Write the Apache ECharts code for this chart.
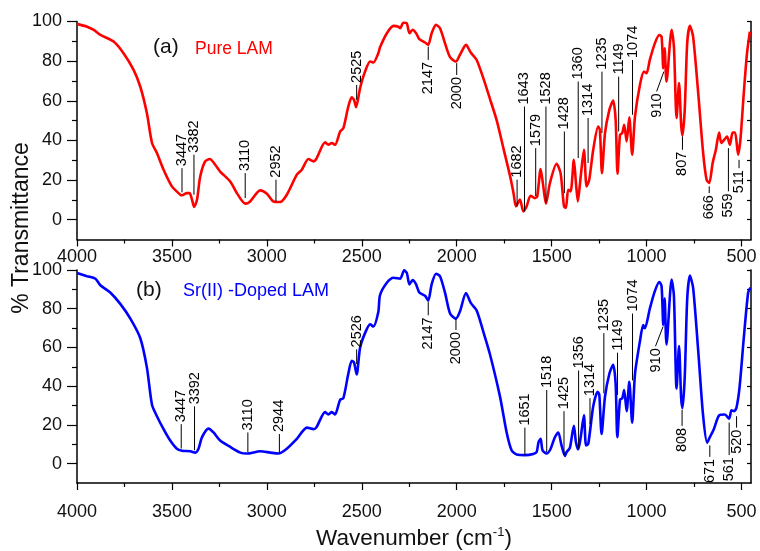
<!DOCTYPE html>
<html><head><meta charset="utf-8">
<script src="https://cdn.jsdelivr.net/npm/echarts@6/dist/echarts.min.js"></script>
<style>html,body{margin:0;padding:0;background:#fff}#c{width:760px;height:551px}</style>
</head><body><div id="c"></div>
<script>
// ---- data (wavenumber in cm-1, % transmittance) ----
const pureWn = [4000,3947,3912,3877,3807,3755,3702,3667,3632,3605,3579,3544,3500,3456,3447,3421,3407,3394,3383,3368,3351,3325,3300,3272,3246,3193,3158,3114,3088,3035,3000,2965,2930,2895,2842,2816,2781,2754,2740,2693,2676,2658,2641,2614,2597,2571,2553,2541,2530,2509,2483,2456,2439,2413,2404,2368,2333,2307,2298,2281,2263,2249,2232,2214,2197,2167,2150,2132,2109,2088,2062,2035,2004,1983,1951,1926,1895,1860,1825,1789,1754,1719,1700,1688,1667,1649,1632,1611,1588,1576,1558,1544,1530,1509,1474,1453,1435,1425,1413,1400,1383,1372,1362,1347,1330,1316,1302,1281,1255,1246,1235,1219,1196,1176,1163,1153,1140,1128,1118,1105,1091,1076,1061,1035,1014,1000,983,956,933,921,912,905,895,868,856,842,829,818,811,799,786,772,755,728,702,684,670,652,635,618,606,588,576,561,547,534,518,505,488,471,456];
const pureT = [98.8,97.4,95.8,93.2,89.9,84,75.6,67.2,53.8,38.7,33.6,25.2,16.8,12.6,12.3,13.4,13.4,10,6.4,10,21.8,29.4,30.6,27.7,24.3,19.3,13.4,8.1,9.2,14.8,13.1,9.2,8.9,12.6,22.7,25.2,30.6,29.4,30.6,39,37.8,38.7,37.8,44.5,46.2,57.1,61.7,60.5,56.8,66.4,74.7,79.8,79.3,84,87,94.1,97.8,97.4,96.6,99.4,99.1,94.1,95.8,94.1,91.1,89.4,88.2,94.1,98.3,96.6,89.1,82,79.8,83.2,88.2,84.3,80.6,71.4,61,50,36,22,13,6.7,10.1,4.2,6.7,12.1,10.9,11.7,25.5,16.8,8.1,18.5,28.2,23.5,6.7,5.9,15.1,14.3,30.2,18.5,9.2,21.8,35.3,16.8,20.2,35.3,47,45.4,23.5,43.7,55.4,60.1,50.4,23.2,42.8,43.7,47.9,39.5,51.7,32.8,52.1,68,74.7,73.9,80.6,89.1,93.2,92.4,76.4,86.5,69.7,95.8,87.3,51.3,68.9,48,42.5,55.4,89.1,97.8,92.4,63.9,33.6,20.2,18.5,28.6,35.3,44,38.7,40.7,42,37.8,44,44,32.8,41.2,63.9,84,94.9];

const dopedWn = [4000,3947,3903,3877,3825,3772,3719,3667,3632,3605,3579,3544,3509,3474,3447,3403,3377,3360,3342,3307,3281,3246,3193,3140,3105,3035,2982,2939,2895,2842,2789,2754,2740,2693,2676,2658,2641,2614,2597,2571,2553,2541,2527,2509,2483,2456,2439,2413,2404,2368,2333,2298,2277,2263,2249,2232,2214,2197,2167,2150,2132,2109,2088,2062,2035,2004,1983,1951,1926,1895,1860,1825,1772,1737,1711,1684,1640,1597,1579,1569,1558,1548,1527,1509,1483,1465,1448,1430,1421,1404,1383,1372,1360,1347,1330,1319,1307,1281,1258,1249,1237,1219,1196,1176,1163,1154,1140,1128,1118,1105,1091,1076,1061,1035,1018,1009,983,956,933,921,912,905,895,868,856,842,829,818,811,799,786,772,755,728,702,681,667,646,618,588,565,553,539,527,510,488,465,453];
const dopedT = [98.5,96.8,95.5,92.1,88.4,82.5,74.9,64.9,49.7,30.4,24.5,17.8,11.9,7.7,6.7,6.4,5.7,7.7,13.6,18.1,16.1,11.9,8.6,5.7,5.2,6.4,5.7,5.2,7.7,12.8,18.6,17.8,18.6,26.6,25.4,26.6,25.4,33,33.8,46.4,53.1,52.3,46.1,59.8,67.4,71.9,70.8,78.3,87,93.4,96,95.5,99.8,98.5,92.6,94.8,92.6,88.4,86.7,84.2,92.6,98.1,96.8,88.4,77.5,74.9,78.6,88.1,83,79.1,68.2,56.5,34.6,16.1,6.9,4.7,4.4,5,6,11.1,12.8,6.9,5.2,6.9,13.6,16.1,9.4,4,6,8.1,19.5,11.1,7.4,13.6,24.9,9.4,10.3,29.6,37.1,35.5,15.3,34.6,46.4,51.1,41.3,13.6,33,33.8,38,27.1,42.2,21.2,46.4,63.2,71.6,69.9,80,89.2,93.8,91.7,71.6,85.4,61.5,95.1,86.7,38.8,60.7,34,28.7,44.7,85,97.1,90.9,58.2,24.5,10.8,13.6,17.8,24.9,25.4,23.2,27.6,27.1,28.7,39.7,64.9,88.4,90.9];

// peak annotations: label, x at low end, y low, x at high end, y high, side (0 = text above, 1 = text below)
const pureAnnLabel = ['3447','3382','3110','2952','2525','2147','2000','1682','1643','1579','1528','1428','1360','1314','1235','1149','1074','910','807','666','559','511'];
const pureAnnX1 = [3447,3384,3114,2952,2527,2150,2000,1682,1643,1584,1530,1433,1360,1308,1235,1147,1074,947,811,670,569,513];
const pureAnnY1 = [13.8,12.6,10.9,9.2,60.5,80.6,73,6.7,4.2,11.8,8.7,13.4,31.1,28.6,43.7,44.5,52.9,64.7,35.3,13.4,14.3,26];
const pureAnnX2 = [3447,3384,3114,2952,2527,2150,2000,1682,1643,1584,1530,1433,1360,1308,1235,1147,1074,909,811,670,569,513];
const pureAnnY2 = [26,32.8,23.5,20.2,68,87.3,79,20.2,57.1,36.1,57.1,44.5,69.7,51.3,74.7,72.2,80.6,74.7,42,16.8,36.1,30.2];
const pureAnnSide = [0,0,0,0,0,1,1,0,0,0,0,0,0,0,0,0,0,1,1,1,1,1];

const dopedAnnLabel = ['3447','3392','3110','2944','2526','2147','2000','1651','1518','1425','1356','1314','1235','1149','1074','910','808','671','561','520'];
const dopedAnnX1 = [3451,3381,3100,2934,2527,2150,2004,1641,1526,1435,1358,1298,1225,1153,1074,953,813,667,565,526];
const dopedAnnY1 = [7.8,6.9,6,5.2,51.4,76.6,69,4.4,6,4.4,7.7,20.4,36.3,35.5,43,60.6,19.5,3.5,4.4,18.6];
const dopedAnnX2 = [3451,3381,3100,2934,2527,2150,2004,1641,1526,1435,1358,1298,1225,1153,1074,913,813,667,565,526];
const dopedAnnY2 = [20.4,29.6,16.1,15.3,59,83.4,74.9,18.6,38,27.1,48.1,33.8,67.4,57.3,77.5,70.8,27.9,9.4,21.2,24.5];
const dopedAnnSide = [0,0,0,0,0,1,1,0,0,0,0,0,0,0,0,1,1,1,1,1];

const xTickValues = [4000,3500,3000,2500,2000,1500,1000,500];
const xMinorValues = [3750,3250,2750,2250,1750,1250,750];
const yTickValues = [0,20,40,60,80,100];
const yMinorValues = [10,30,50,70,90];
const yRightValues = [0,10,20,30,40,50,60,70,80,90,100];

// ---- build ----
const FONT = 'Liberation Sans, Arial, sans-serif';
const zip = (a,b) => a.map((v,i)=>[v,b[i]]);
const annData = (x1,y1,x2,y2,s) => x1.map((v,i)=>[v,y1[i],x2[i],y2[i],s[i]]);

function annRender(labels){
  return function(params, api){
    const p1 = api.coord([api.value(0), api.value(1)]);
    const p2 = api.coord([api.value(2), api.value(3)]);
    const side = api.value(4);
    let tx, ty, align;
    if (side === 0) { tx = p2[0]; ty = p2[1]-2; align = 'left'; }
    else { tx = p1[0]; ty = p1[1]+2; align = 'right'; }
    return {type:'group', children:[
      {type:'line', shape:{x1:p1[0],y1:p1[1],x2:p2[0],y2:p2[1]}, style:{stroke:'#000',lineWidth:1}},
      {type:'text', x:tx, y:ty, rotation:Math.PI/2,
       style:{text:labels[params.dataIndex], fontSize:14.5, fontFamily:FONT, fill:'#000', align:align, verticalAlign:'middle'}}
    ]};
  };
}

const grids = [
  {left:77, top:21.5, width:674, height:218},
  {left:77, top:270, width:674, height:218.5}
];
const axisLineStyle = {color:'#000', width:1.5};
const plain = v => String(v);
const xAxes = [], yAxes = [];
[0,1].forEach(g=>{
  xAxes.push({gridIndex:g, type:'value', inverse:true, min:450, max:4000, position:'bottom',
    axisLine:{show:true, onZero:false, lineStyle:axisLineStyle},
    axisTick:{show:true, customValues:xTickValues, length:7, lineStyle:{color:'#000',width:1.2}},
    axisLabel:{show:true, customValues:xTickValues, formatter:plain, fontSize:18, fontFamily:FONT, color:'#111', margin: g===0?9:20},
    splitLine:{show:false},
    name: g===1 ? 'Wavenumber (cm{sup|-1})' : '', nameLocation:'middle', nameGap:43,
    nameTextStyle:{fontSize:22.5, fontFamily:FONT, color:'#111', rich:{sup:{fontSize:13, fontFamily:FONT, color:'#111', verticalAlign:'top', padding:[0,0,12,0]}}}
  });
  xAxes.push({gridIndex:g, type:'value', inverse:true, min:450, max:4000, position:'bottom',
    axisLine:{show:false, onZero:false},
    axisTick:{show:true, customValues:xMinorValues, length:4, lineStyle:{color:'#000',width:1.2}},
    axisLabel:{show:false}, splitLine:{show:false}});
  yAxes.push({gridIndex:g, type:'value', min:-10, max:100, position:'left',
    axisLine:{show:true, onZero:false, lineStyle:axisLineStyle},
    axisTick:{show:true, customValues:yTickValues, length:10, lineStyle:{color:'#000',width:1.2}},
    axisLabel:{show:true, customValues:yTickValues, formatter:plain, fontSize:18, fontFamily:FONT, color:'#111', margin:15},
    splitLine:{show:false}});
  yAxes.push({gridIndex:g, type:'value', min:-10, max:100, position:'left',
    axisLine:{show:false, onZero:false},
    axisTick:{show:true, customValues:yMinorValues, length:5, lineStyle:{color:'#000',width:1.2}},
    axisLabel:{show:false}, splitLine:{show:false}});
  yAxes.push({gridIndex:g, type:'value', min:-10, max:100, position:'right',
    axisLine:{show:true, onZero:false, lineStyle:axisLineStyle},
    axisTick:{show:true, inside:true, customValues:yRightValues, length:4, lineStyle:{color:'#000',width:1.2}},
    axisLabel:{show:false}, splitLine:{show:false}});
});

const option = {
  animation:false,
  backgroundColor:'#fff',
  grid: grids,
  xAxis: xAxes,
  yAxis: yAxes,
  series: [
    {type:'line', name:'Pure LAM', xAxisIndex:0, yAxisIndex:0, data:zip(pureWn,pureT), showSymbol:false, smooth:0.25,
     lineStyle:{color:'#ff0000', width:2.6}, itemStyle:{color:'#ff0000'}},
    {type:'line', name:'Sr(II) -Doped LAM', xAxisIndex:2, yAxisIndex:3, data:zip(dopedWn,dopedT), showSymbol:false, smooth:0.25,
     lineStyle:{color:'#0000ff', width:2.6}, itemStyle:{color:'#0000ff'}},
    {type:'custom', xAxisIndex:0, yAxisIndex:0, renderItem:annRender(pureAnnLabel), clip:false,
     data:annData(pureAnnX1,pureAnnY1,pureAnnX2,pureAnnY2,pureAnnSide), z:5},
    {type:'custom', xAxisIndex:2, yAxisIndex:3, renderItem:annRender(dopedAnnLabel), clip:false,
     data:annData(dopedAnnX1,dopedAnnY1,dopedAnnX2,dopedAnnY2,dopedAnnSide), z:5}
  ],
  graphic: [
    {type:'text', left:153, top:37, style:{text:'(a)', fontSize:21, fontFamily:FONT, fill:'#111'}},
    {type:'text', left:195, top:40, style:{text:'Pure LAM', fontSize:17.5, fontFamily:FONT, fill:'#ff0000'}},
    {type:'text', left:136, top:280, style:{text:'(b)', fontSize:21, fontFamily:FONT, fill:'#111'}},
    {type:'text', left:183, top:282, style:{text:'Sr(II) -Doped LAM', fontSize:18, fontFamily:FONT, fill:'#0000ff'}},
    {type:'text', x:22, y:228, rotation:Math.PI/2,
     style:{text:'% Transmittance', fontSize:23, fontFamily:FONT, fill:'#111', align:'center', verticalAlign:'middle'}}
  ]
};
const chart = echarts.init(document.getElementById('c'), null, {renderer:'canvas'});
chart.setOption(option);
</script></body></html>
